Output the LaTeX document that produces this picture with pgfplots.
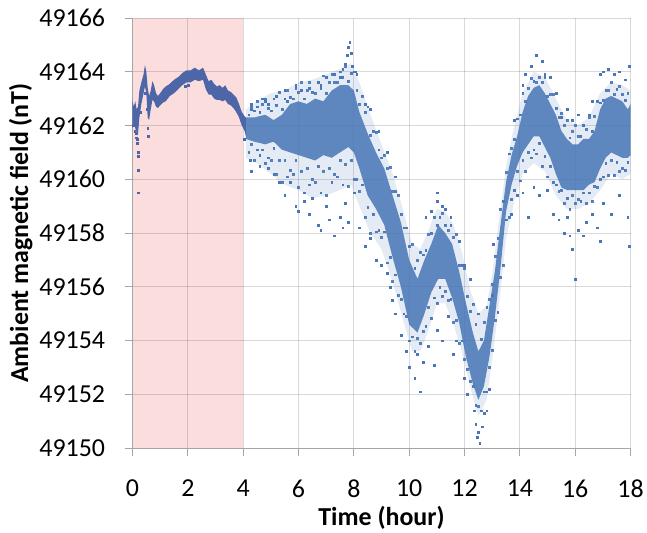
\documentclass[border=0pt]{standalone}
\usepackage{fontspec}
\setmainfont{Carlito}
\usepackage{pgfplots}
\pgfplotsset{compat=1.18}
\usepgfplotslibrary{fillbetween}
\definecolor{ptblue}{RGB}{72,118,182}
\definecolor{ptdark}{RGB}{76,102,168}
\definecolor{shade}{RGB}{252,221,221}

\begin{document}
\begin{tikzpicture}
\begin{axis}[
  set layers,
  scale only axis, width=500pt, height=432pt,
  xmin=0, xmax=18, ymin=49150, ymax=49166,
  xtick={0,2,...,18}, ytick={49150,49152,...,49166},
  scaled y ticks=false,
  grid=major,
  major grid style={draw=black, opacity=0.15, line width=0.8pt},
  axis lines*=left,
  axis line style={draw=black!35, line width=0.8pt},
  tick align=outside, tick pos=left, major tick length=8pt,
  tick style={draw=black!35, line width=0.8pt},
  /pgf/number format/assume math mode=true,
  yticklabel style={/pgf/number format/.cd, fixed, precision=0, 1000 sep={}, /tikz/.cd, xshift=-16pt},
  xticklabel style={yshift=-20pt},
  ticklabel style={font=\fontsize{26}{30}\selectfont},
  label style={font=\bfseries\fontsize{26}{30}\selectfont},
  xlabel style={yshift=-2pt},
  xlabel={Time (hour)},
  ylabel={Ambient magnetic field (nT)},
]

% quiet window 0-4 h
\addplot[on layer=axis background, fill=shade, draw=none, forget plot]
  coordinates {(0,49150) (0,49166) (4,49166) (4,49150)};

% first four hours, tight band
\addplot[name path=ua, draw=none, forget plot] coordinates {
(0.00,49162.9)(0.05,49162.7)(0.10,49162.9)(0.15,49162.6)(0.20,49162.7)(0.25,49163.3)
(0.32,49163.6)(0.40,49163.9)(0.45,49164.25)(0.50,49164.0)(0.55,49163.4)(0.60,49163.1)
(0.66,49163.3)(0.72,49163.65)(0.78,49163.5)(0.85,49163.2)(0.92,49163.1)(1.0,49163.2)
(1.1,49163.35)(1.2,49163.45)(1.35,49163.55)(1.5,49163.7)(1.65,49163.8)(1.8,49163.95)
(1.95,49164.05)(2.1,49164.05)(2.25,49164.15)(2.4,49164.05)(2.55,49164.15)(2.65,49163.9)
(2.75,49163.65)(2.85,49163.7)(2.95,49163.55)(3.05,49163.45)(3.15,49163.5)(3.25,49163.4)
(3.35,49163.5)(3.45,49163.3)(3.55,49163.25)(3.65,49163.15)(3.75,49163.05)(3.85,49162.8)
(3.95,49162.5)(4.05,49162.35)(4.1,49162.3)};
\addplot[name path=la, draw=none, forget plot] coordinates {
(0.00,49161.9)(0.05,49162.1)(0.10,49161.9)(0.15,49161.75)(0.20,49161.7)(0.25,49162.3)
(0.32,49162.8)(0.40,49163.2)(0.45,49163.45)(0.50,49163.2)(0.55,49162.3)(0.60,49162.2)
(0.66,49162.6)(0.72,49162.95)(0.78,49162.9)(0.85,49162.7)(0.92,49162.65)(1.0,49162.75)
(1.1,49162.85)(1.2,49162.9)(1.35,49163.1)(1.5,49163.2)(1.65,49163.35)(1.8,49163.5)
(1.95,49163.6)(2.1,49163.6)(2.25,49163.7)(2.4,49163.65)(2.55,49163.7)(2.65,49163.35)
(2.75,49163.15)(2.85,49163.15)(2.95,49163.0)(3.05,49162.95)(3.15,49162.95)(3.25,49162.9)
(3.35,49162.95)(3.45,49162.8)(3.55,49162.75)(3.65,49162.65)(3.75,49162.5)(3.85,49162.3)
(3.95,49162.0)(4.05,49161.8)(4.1,49161.6)};
\addplot[fill=ptdark, draw=none, forget plot] fill between[of=ua and la];

% 4-18 h, sparse halo
\addplot[name path=uh, draw=none, forget plot] coordinates {
(4.1,49162.6)(4.5,49162.9)(5.0,49163.2)(5.5,49163.3)(6.0,49163.6)(6.5,49163.7)
(7.0,49163.9)(7.5,49164.1)(7.9,49164.3)(8.2,49163.6)(8.6,49162.4)(9.0,49161.3)
(9.4,49160.2)(9.8,49158.8)(10.1,49157.6)(10.4,49157.4)(10.7,49158.1)(11.0,49158.9)
(11.3,49158.8)(11.6,49158.3)(11.9,49157.3)(12.2,49155.9)(12.5,49155.0)(12.8,49155.3)
(13.0,49156.5)(13.3,49158.9)(13.5,49160.5)(13.8,49162.0)(14.1,49163.2)(14.5,49164.0)
(14.9,49163.8)(15.3,49163.0)(15.7,49162.2)(16.1,49162.0)(16.5,49162.3)(16.9,49163.2)
(17.3,49163.6)(17.7,49163.5)(18.0,49163.3)};
\addplot[name path=lh, draw=none, forget plot] coordinates {
(4.1,49160.8)(4.5,49160.6)(5.0,49160.2)(5.5,49159.8)(6.0,49159.6)(6.5,49159.3)
(7.0,49159.4)(7.5,49159.6)(7.9,49159.8)(8.2,49159.0)(8.6,49158.0)(9.0,49157.4)
(9.4,49156.2)(9.8,49154.7)(10.1,49153.6)(10.4,49153.6)(10.7,49154.4)(11.0,49155.4)
(11.3,49155.4)(11.6,49154.6)(11.9,49153.6)(12.2,49152.3)(12.5,49151.2)(12.8,49151.8)
(13.0,49153.3)(13.3,49155.8)(13.5,49157.8)(13.8,49159.2)(14.1,49160.2)(14.5,49160.6)
(14.9,49160.3)(15.3,49159.4)(15.7,49158.9)(16.1,49158.9)(16.5,49159.1)(16.9,49159.6)
(17.3,49160.2)(17.7,49160.0)(18.0,49160.2)};
\addplot[fill=ptblue, fill opacity=0.15, draw=none, forget plot] fill between[of=uh and lh];

% 4-18 h, dense core
\addplot[name path=uc, draw=none, forget plot] coordinates {
(4.1,49162.3)(4.4,49162.3)(4.8,49162.4)(5.1,49162.2)(5.4,49162.4)(5.7,49162.8)
(6.0,49162.9)(6.3,49162.8)(6.6,49163.0)(6.9,49162.9)(7.2,49163.3)(7.5,49163.5)
(7.8,49163.5)(8.0,49163.3)(8.2,49162.5)(8.5,49161.7)(8.8,49161.0)(9.1,49160.4)
(9.4,49159.4)(9.7,49158.4)(10.0,49157.0)(10.3,49156.3)(10.55,49157.0)(10.8,49157.6)
(11.05,49158.3)(11.3,49158.0)(11.55,49157.6)(11.8,49156.6)(12.05,49155.4)(12.3,49154.3)
(12.5,49153.6)(12.7,49154.0)(12.9,49155.3)(13.1,49156.6)(13.3,49158.3)(13.5,49159.9)
(13.7,49160.9)(13.9,49161.6)(14.1,49162.5)(14.3,49163.1)(14.5,49163.4)(14.7,49163.5)
(14.9,49163.2)(15.1,49162.8)(15.3,49162.4)(15.5,49161.8)(15.7,49161.5)(15.9,49161.3)
(16.1,49161.3)(16.3,49161.5)(16.5,49161.5)(16.7,49161.8)(16.9,49162.6)(17.1,49163.0)
(17.3,49163.1)(17.5,49163.0)(17.7,49162.9)(17.9,49162.6)(18.0,49162.8)};
\addplot[name path=lc, draw=none, forget plot] coordinates {
(4.1,49161.5)(4.4,49161.4)(4.8,49161.3)(5.1,49161.4)(5.4,49161.1)(5.7,49161.0)
(6.0,49160.9)(6.3,49160.8)(6.6,49160.7)(6.9,49160.9)(7.2,49160.8)(7.5,49161.0)
(7.8,49161.2)(8.0,49161.0)(8.2,49160.4)(8.5,49159.4)(8.8,49158.9)(9.1,49158.3)
(9.4,49157.1)(9.7,49156.0)(10.0,49154.6)(10.3,49154.3)(10.55,49155.0)(10.8,49155.8)
(11.05,49156.3)(11.3,49156.3)(11.55,49155.6)(11.8,49154.7)(12.05,49153.4)(12.3,49152.4)
(12.5,49151.8)(12.7,49152.3)(12.9,49153.4)(13.1,49154.9)(13.3,49156.7)(13.5,49158.8)
(13.7,49159.8)(13.9,49160.5)(14.1,49161.0)(14.3,49161.3)(14.5,49161.6)(14.7,49161.6)
(14.9,49161.2)(15.1,49160.8)(15.3,49160.2)(15.5,49159.7)(15.7,49159.6)(15.9,49159.6)
(16.1,49159.6)(16.3,49159.6)(16.5,49159.8)(16.7,49159.9)(16.9,49160.4)(17.1,49160.8)
(17.3,49161.0)(17.5,49160.9)(17.7,49160.8)(17.9,49160.8)(18.0,49160.9)};
\addplot[fill=ptblue, fill opacity=0.85, draw=none, forget plot] fill between[of=uc and lc];

% scattered readings, first hours
\addplot[only marks, mark=square*, mark size=0.9pt, color=ptdark] coordinates {
(0.18,49161.5)(0.18,49161.35)(0.20,49161.0)(0.20,49160.85)(0.21,49160.35)(0.22,49159.5)
(0.55,49161.9)(0.58,49161.6)(0.12,49161.55)(0.45,49163.2)(1.9,49163.45)(2.0,49163.5)
(0.03,49162.0)(0.08,49161.8)(0.14,49161.7)(0.30,49162.5)(0.52,49162.6)(4.05,49161.5)};

% scattered readings above and below the dense part, 4-18 h
\addplot[only marks, mark=square*, mark size=0.9pt, color=ptblue, opacity=0.9] coordinates {
(4.2,49162.4)(4.3,49162.7)(4.4,49162.55)(4.5,49162.9)(4.6,49162.5)(4.7,49162.8)
(4.8,49163.0)(4.9,49162.65)(5.0,49162.55)(5.1,49163.0)(5.2,49162.75)(5.3,49163.25)
(5.4,49162.6)(5.5,49163.0)(5.6,49163.3)(5.7,49163.05)(5.8,49163.0)(5.9,49163.4)
(6.0,49163.25)(6.1,49163.6)(6.2,49163.0)(6.3,49163.3)(6.4,49163.6)(6.5,49163.25)
(6.6,49163.2)(6.7,49163.6)(6.8,49163.4)(6.9,49163.85)(7.0,49163.2)(7.1,49163.6)
(7.2,49163.9)(7.3,49163.6)(7.4,49163.6)(7.5,49164.0)(7.6,49163.8)(7.7,49164.2)
(7.8,49163.65)(7.9,49163.95)(8.0,49164.0)(8.1,49163.3)(8.2,49162.8)(8.3,49163.1)
(8.4,49162.5)(8.5,49162.7)(8.6,49161.65)(8.7,49161.8)(8.8,49161.75)(8.9,49161.1)
(9.0,49160.8)(9.1,49160.9)(9.2,49160.4)(9.3,49160.45)(9.4,49159.55)(9.5,49159.55)
(9.6,49159.4)(9.7,49158.7)(9.8,49158.2)(9.9,49158.2)(10.0,49157.5)(10.1,49157.6)
(10.2,49156.7)(10.3,49157.0)(10.4,49157.3)(10.5,49157.2)(10.6,49157.35)(10.7,49157.95)
(10.8,49158.0)(10.9,49158.6)(11.0,49158.3)(11.1,49158.6)(11.2,49158.75)(11.3,49158.3)
(11.4,49158.1)(11.5,49158.3)(11.6,49157.85)(11.7,49157.95)(11.8,49156.8)(11.9,49156.8)
(12.0,49156.7)(12.1,49155.65)(12.2,49155.1)(12.3,49155.35)(12.4,49154.6)(12.5,49155.0)
(12.6,49154.05)(12.7,49154.7)(12.8,49155.25)(12.9,49155.55)(13.0,49156.1)(13.1,49157.15)
(13.2,49157.8)(13.3,49158.9)(13.4,49159.2)(13.5,49160.25)(13.6,49160.95)(13.7,49161.15)
(13.8,49161.5)(13.9,49162.25)(14.0,49162.4)(14.1,49163.2)(14.2,49162.9)(14.3,49163.4)
(14.4,49163.75)(14.5,49163.65)(14.6,49163.6)(14.7,49163.8)(14.8,49163.6)(14.9,49163.8)
(15.0,49163.1)(15.1,49163.15)(15.2,49163.15)(15.3,49162.65)(15.4,49162.3)(15.5,49162.45)
(15.6,49162.0)(15.7,49162.2)(15.8,49161.55)(15.9,49161.8)(16.0,49162.0)(16.1,49161.6)
(16.2,49161.6)(16.3,49162.0)(16.4,49161.85)(16.5,49162.3)(16.6,49161.8)(16.7,49162.35)
(16.8,49162.9)(16.9,49162.85)(17.0,49162.95)(17.1,49163.3)(17.2,49163.3)(17.3,49163.6)
(17.4,49163.15)(17.5,49163.35)(17.6,49163.45)(17.7,49163.15)(17.8,49162.95)(17.9,49163.2)
(4.2,49161.0)(4.3,49161.3)(4.4,49160.7)(4.5,49161.1)(4.6,49160.5)(4.7,49161.1)
(4.8,49160.6)(4.9,49160.8)(5.0,49160.7)(5.1,49161.15)(5.2,49160.2)(5.3,49160.7)
(5.4,49159.9)(5.5,49160.7)(5.6,49160.1)(5.7,49160.35)(5.8,49160.2)(5.9,49160.7)
(6.0,49159.7)(6.1,49160.3)(6.2,49159.5)(6.3,49160.4)(6.4,49159.8)(6.5,49160.0)
(6.6,49159.9)(6.7,49160.5)(6.8,49159.5)(6.9,49160.3)(7.0,49159.4)(7.1,49160.4)
(7.2,49159.9)(7.3,49160.2)(7.4,49160.1)(7.5,49160.7)(7.6,49159.8)(7.7,49160.55)
(7.8,49159.75)(7.9,49160.7)(8.0,49160.0)(8.1,49160.0)(8.2,49159.55)(8.3,49159.8)
(8.4,49158.6)(8.5,49158.95)(8.6,49158.0)(8.7,49158.7)(8.8,49158.05)(8.9,49158.1)
(9.0,49157.85)(9.1,49158.05)(9.2,49156.9)(9.3,49157.1)(9.4,49156.2)(9.5,49156.45)
(9.6,49155.7)(9.7,49155.55)(9.8,49155.0)(9.9,49154.9)(10.0,49154.0)(10.1,49154.15)
(10.2,49153.6)(10.3,49154.1)(10.4,49153.9)(10.5,49154.35)(10.6,49154.55)(10.7,49155.25)
(10.8,49154.85)(10.9,49155.6)(11.0,49155.4)(11.1,49156.0)(11.2,49155.65)(11.3,49155.85)
(11.4,49155.5)(11.5,49155.55)(11.6,49154.7)(11.7,49154.75)(11.8,49153.9)(11.9,49154.0)
(12.0,49153.3)(12.1,49152.95)(12.2,49152.5)(12.3,49152.3)(12.4,49151.6)(12.5,49151.55)
(12.6,49151.4)(12.7,49152.1)(12.8,49152.1)(12.9,49153.0)(13.0,49153.65)(13.1,49154.75)
(13.2,49155.05)(13.3,49156.35)(13.4,49156.8)(13.5,49158.5)(13.6,49158.6)(13.7,49159.25)
(13.8,49159.6)(13.9,49160.3)(14.0,49159.95)(14.1,49160.7)(14.2,49160.3)(14.3,49161.0)
(14.4,49160.8)(14.5,49161.1)(14.6,49160.95)(14.7,49161.35)(14.8,49160.5)(14.9,49160.85)
(15.0,49160.1)(15.1,49160.5)(15.2,49159.9)(15.3,49159.8)(15.4,49159.55)(15.5,49159.6)
(15.6,49159.1)(15.7,49159.3)(15.8,49158.9)(15.9,49159.4)(16.0,49159.1)(16.1,49159.25)
(16.2,49159.2)(16.3,49159.5)(16.4,49159.1)(16.5,49159.5)(16.6,49159.2)(16.7,49159.75)
(16.8,49159.7)(16.9,49160.0)(17.0,49160.1)(17.1,49160.6)(17.2,49160.15)(17.3,49160.7)
(17.4,49160.15)(17.5,49160.65)(17.6,49160.3)(17.7,49160.4)(17.8,49160.35)(17.9,49160.65)};

% outlying readings, 4-18 h
\addplot[only marks, mark=square*, mark size=0.9pt, color=ptblue] coordinates {
(4.3,49162.6)(4.3,49162.8)(4.5,49162.7)(4.7,49163.0)(4.8,49162.9)(4.9,49162.8)
(5.2,49163.1)(5.5,49163.3)(5.6,49162.9)(5.9,49163.5)(6.1,49163.3)(6.4,49163.4)
(6.7,49163.6)(6.8,49163.5)(7.0,49163.8)(7.3,49163.9)(7.5,49163.8)(7.6,49164.1)
(7.7,49164.3)(7.75,49164.6)(7.8,49164.9)(7.85,49165.1)(7.9,49164.7)(7.95,49164.2)
(8.05,49164.0)(8.1,49163.9)(8.4,49162.8)(8.6,49162.6)(8.9,49161.8)(9.2,49161.0)
(9.5,49160.1)
(4.25,49160.7)(4.3,49160.3)(4.6,49160.9)(4.9,49160.4)(5.1,49160.2)(5.3,49159.9)
(5.5,49159.4)(5.7,49159.9)(5.9,49159.0)(6.0,49158.8)(6.2,49159.2)(6.4,49158.7)
(6.5,49159.3)(6.7,49158.3)(6.8,49158.1)(7.0,49159.0)(7.1,49158.5)(7.3,49157.9)
(7.5,49158.6)(7.6,49158.2)(7.7,49159.1)(7.8,49158.4)(8.0,49159.5)(8.2,49158.2)
(8.4,49157.5)(8.6,49157.8)(8.8,49157.0)(9.0,49156.8)(9.2,49156.5)(9.4,49155.5)
(9.5,49155.0)
(9.7,49154.2)(9.9,49153.6)(10.0,49153.0)(10.2,49152.6)(10.3,49153.5)(10.4,49152.1)
(10.5,49153.2)(10.7,49153.8)(10.9,49153.1)(11.0,49154.4)(11.2,49154.0)(11.4,49154.9)
(11.6,49153.5)(11.7,49154.0)(10.6,49158.6)(10.8,49158.8)(11.0,49159.5)(11.0,49159.2)
(11.2,49159.0)(11.3,49158.9)(11.5,49158.6)(11.8,49157.7)(12.0,49156.8)(12.2,49156.3)
(12.35,49151.4)(12.4,49150.9)(12.45,49150.4)(12.5,49150.6)(12.55,49150.2)(12.65,49150.8)
(12.7,49151.3)(12.8,49151.4)(12.0,49152.6)(12.1,49152.0)(12.9,49152.2)(13.0,49155.7)
(13.05,49157.6)(9.3,49156.0)
(13.8,49162.2)(14.1,49163.5)(14.2,49163.9)(14.4,49164.2)(14.6,49164.6)(14.8,49164.4)
(14.9,49163.9)(15.1,49163.8)(15.3,49163.2)(15.5,49162.3)(15.7,49162.6)(15.9,49162.2)
(16.1,49162.4)(16.3,49162.0)(16.5,49162.4)(16.6,49162.9)(16.9,49163.9)(17.0,49164.0)
(17.2,49164.1)(17.4,49163.9)(17.6,49164.0)(17.8,49163.7)(17.95,49164.2)
(13.7,49158.7)(13.9,49159.4)(14.1,49159.5)(14.3,49158.6)(14.5,49159.7)(14.7,49159.4)
(15.0,49159.6)(15.2,49158.7)(15.4,49158.5)(15.6,49158.0)(15.7,49158.6)(15.8,49157.9)
(15.9,49157.4)(16.0,49156.3)(16.1,49158.1)(16.3,49157.9)(16.4,49158.4)(16.6,49158.7)
(16.9,49157.7)(17.0,49159.1)(17.3,49158.7)(17.6,49159.4)(17.9,49158.6)(17.95,49157.5)
(16.8,49158.2)};
\end{axis}
% margins as in the reference
\path (current axis.north west) ++(-133pt,18pt);
\end{tikzpicture}
\end{document}
